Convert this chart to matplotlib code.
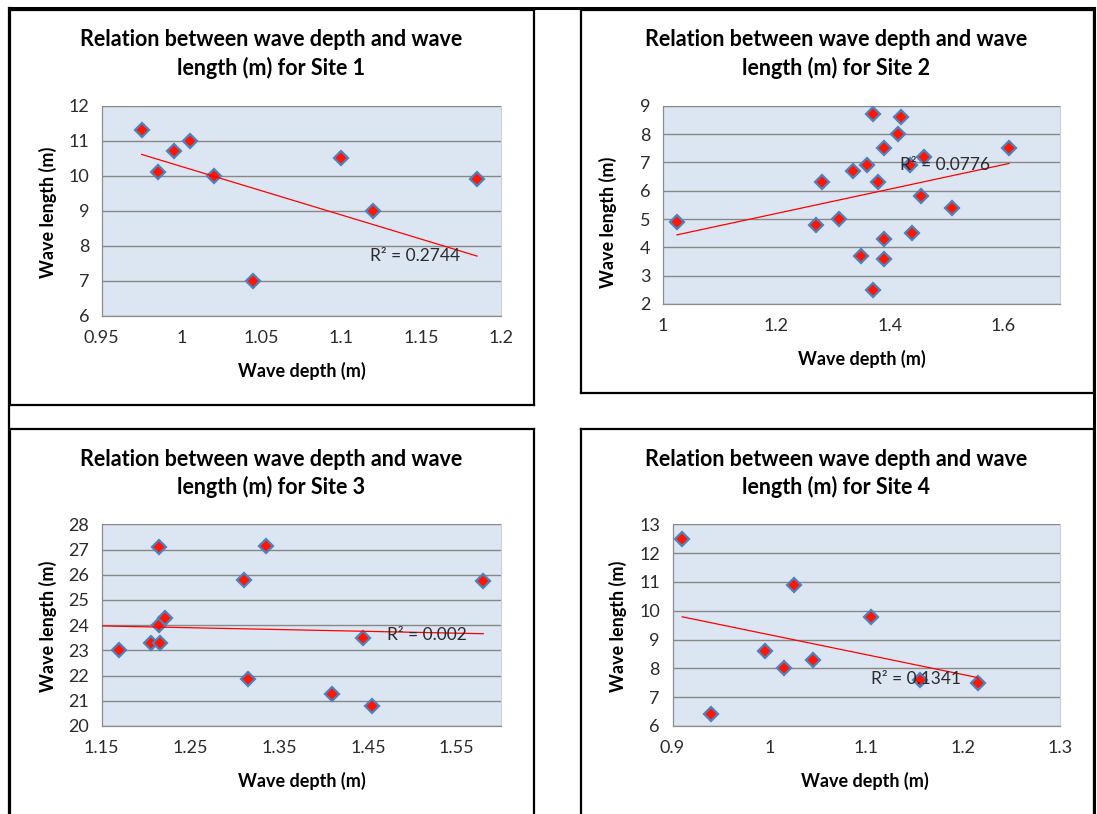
import matplotlib
matplotlib.use("Agg")
import matplotlib.pyplot as plt
from matplotlib.lines import Line2D

plt.rcParams['font.family'] = ['Lato', 'DejaVu Sans']

# ---------------- data ----------------
site1_depth = [0.975, 0.985, 0.995, 1.005, 1.02, 1.045, 1.10, 1.12, 1.185]
site1_length = [11.3, 10.1, 10.7, 11.0, 10.0, 7.0, 10.5, 9.0, 9.9]
site1_trend_x = [0.975, 1.185]
site1_trend_y = [10.61, 7.71]
site1_r2 = "R\u00b2 = 0.2744"

site2_depth = [1.025, 1.27, 1.28, 1.31, 1.335, 1.35, 1.36, 1.37, 1.37, 1.38,
               1.39, 1.39, 1.39, 1.415, 1.42, 1.435, 1.44, 1.455, 1.46, 1.51, 1.61]
site2_length = [4.9, 4.8, 6.3, 5.0, 6.7, 3.7, 6.9, 8.7, 2.5, 6.3,
                7.5, 4.3, 3.6, 8.0, 8.6, 6.9, 4.5, 5.8, 7.2, 5.4, 7.5]
site2_trend_x = [1.025, 1.61]
site2_trend_y = [4.44, 6.96]
site2_r2 = "R\u00b2 = 0.0776"

site3_depth = [1.17, 1.205, 1.215, 1.215, 1.216, 1.221, 1.31, 1.315, 1.335,
               1.41, 1.445, 1.455, 1.58]
site3_length = [23.0, 23.3, 27.1, 24.0, 23.3, 24.3, 25.8, 21.85, 27.15,
                21.25, 23.5, 20.8, 25.75]
site3_trend_x = [1.15, 1.58]
site3_trend_y = [23.97, 23.66]
site3_r2 = "R\u00b2 = 0.002"

site4_depth = [0.91, 0.94, 0.995, 1.015, 1.025, 1.045, 1.105, 1.155, 1.215]
site4_length = [12.5, 6.4, 8.6, 8.0, 10.9, 8.3, 9.8, 7.6, 7.5]
site4_trend_x = [0.91, 1.215]
site4_trend_y = [9.79, 7.68]
site4_r2 = "R\u00b2 = 0.1341"

site1_xticks = [0.95, 1.0, 1.05, 1.1, 1.15, 1.2]
site1_xticklabels = ["0.95", "1", "1.05", "1.1", "1.15", "1.2"]
site1_yticks = [6, 7, 8, 9, 10, 11, 12]
site2_xticks = [1.0, 1.2, 1.4, 1.6]
site2_xticklabels = ["1", "1.2", "1.4", "1.6"]
site2_yticks = [2, 3, 4, 5, 6, 7, 8, 9]
site3_xticks = [1.15, 1.25, 1.35, 1.45, 1.55]
site3_xticklabels = ["1.15", "1.25", "1.35", "1.45", "1.55"]
site3_yticks = [20, 21, 22, 23, 24, 25, 26, 27, 28]
site4_xticks = [0.9, 1.0, 1.1, 1.2, 1.3]
site4_xticklabels = ["0.9", "1", "1.1", "1.2", "1.3"]
site4_yticks = [6, 7, 8, 9, 10, 11, 12, 13]

titles = ["Site 1", "Site 2", "Site 3", "Site 4"]

# ---------------- layout ----------------
W, H = 1097, 814
fig = plt.figure(figsize=(W / 100, H / 100), dpi=100)
fig.patch.set_facecolor("white")


def fx(x):
    return x / W


def fy(y):
    return 1 - y / H


def add_line(x0, y0, x1, y1, lw=1.6):
    fig.add_artist(Line2D([fx(x0), fx(x1)], [fy(y0), fy(y1)], color="black",
                          lw=lw, transform=fig.transFigure))


# outer frame and chart boxes
add_line(9, 8, 1094, 8, lw=2.2)
add_line(9, 8, 9, 820, lw=1.6)
add_line(1094, 8, 1094, 820, lw=2.2)
for (x0, y0, x1, y1) in [(10, 10, 534, 405), (581, 10, 1094, 393),
                         (10, 429, 534, 830), (581, 429, 1094, 830)]:
    add_line(x0, y0, x1, y0)
    add_line(x0, y1, x1, y1)
    add_line(x0, y0, x0, y1)
    add_line(x1, y0, x1, y1)

panels = [
    dict(rect=(101.7, 105.7, 501, 316), depth=site1_depth, length=site1_length,
         tx=site1_trend_x, ty=site1_trend_y, r2=site1_r2, r2pos=(1.118, 7.71),
         xlim=(0.95, 1.2), ylim=(6, 12), xticks=site1_xticks,
         xticklabels=site1_xticklabels, yticks=site1_yticks,
         title=(271, 40, 68), xlab=(302, 371), ylab=(48, 212), name=titles[0]),
    dict(rect=(662.7, 105.7, 1060, 304), depth=site2_depth, length=site2_length,
         tx=site2_trend_x, ty=site2_trend_y, r2=site2_r2, r2pos=(1.418, 6.89),
         xlim=(1.0, 1.7), ylim=(2, 9), xticks=site2_xticks,
         xticklabels=site2_xticklabels, yticks=site2_yticks,
         title=(836, 40, 68), xlab=(862, 359), ylab=(608, 222), name=titles[1]),
    dict(rect=(101.7, 524.3, 501, 726), depth=site3_depth, length=site3_length,
         tx=site3_trend_x, ty=site3_trend_y, r2=site3_r2, r2pos=(1.471, 23.6),
         xlim=(1.15, 1.6), ylim=(20, 28), xticks=site3_xticks,
         xticklabels=site3_xticklabels, yticks=site3_yticks,
         title=(271, 460, 487), xlab=(302, 781), ylab=(48, 626), name=titles[2]),
    dict(rect=(672.5, 524.3, 1060, 726), depth=site4_depth, length=site4_length,
         tx=site4_trend_x, ty=site4_trend_y, r2=site4_r2, r2pos=(1.1046, 7.62),
         xlim=(0.9, 1.3), ylim=(6, 13), xticks=site4_xticks,
         xticklabels=site4_xticklabels, yticks=site4_yticks,
         title=(836, 460, 487), xlab=(865, 781), ylab=(618, 626), name=titles[3]),
]

tick_color = "#2b2b2b"
for p in panels:
    x0, y0, x1, y1 = p["rect"]
    ax = fig.add_axes([fx(x0), fy(y1), (x1 - x0) / W, (y1 - y0) / H])
    ax.set_facecolor("#DCE6F2")
    ax.set_xlim(*p["xlim"])
    ax.set_ylim(*p["ylim"])
    ax.set_xticks(p["xticks"])
    ax.set_xticklabels(p["xticklabels"])
    ax.set_yticks(p["yticks"])
    ax.set_yticklabels([str(v) for v in p["yticks"]])
    ax.tick_params(axis="both", length=0, labelsize=13, colors=tick_color)
    ax.tick_params(axis="x", pad=10)
    ax.tick_params(axis="y", pad=9)
    ax.yaxis.grid(True, color="#878787", lw=1.0)
    ax.set_axisbelow(True)
    for side in ["left", "bottom"]:
        ax.spines[side].set_color("#8c8c8c")
        ax.spines[side].set_linewidth(0.9)
    ax.spines["top"].set_visible(False)
    ax.spines["right"].set_color("#c9d2de")
    ax.spines["right"].set_linewidth(0.8)

    ax.plot(p["depth"], p["length"], linestyle="none", marker="D", ms=7.2,
            mfc="#FF1500", mec="#4F81BD", mew=1.6, zorder=3, clip_on=False)
    ax.plot(p["tx"], p["ty"], color="#FF0000", lw=0.9, zorder=4)
    ax.text(p["r2pos"][0], p["r2pos"][1], p["r2"], ha="left", va="center",
            fontsize=12.5, color=tick_color, zorder=5)

    tx, ty1, ty2 = p["title"]
    fig.text(fx(tx), fy(ty1), "Relation between wave depth and wave",
             ha="center", va="center", fontsize=15.5, fontweight="bold")
    fig.text(fx(tx), fy(ty2), "length (m) for " + p["name"],
             ha="center", va="center", fontsize=15.5, fontweight="bold")
    fig.text(fx(p["xlab"][0]), fy(p["xlab"][1]), "Wave depth (m)",
             ha="center", va="center", fontsize=13, fontweight="bold")
    fig.text(fx(p["ylab"][0]), fy(p["ylab"][1]), "Wave length (m)",
             ha="center", va="center", fontsize=13, fontweight="bold",
             rotation=90)

fig.savefig("out.png", dpi=100)
